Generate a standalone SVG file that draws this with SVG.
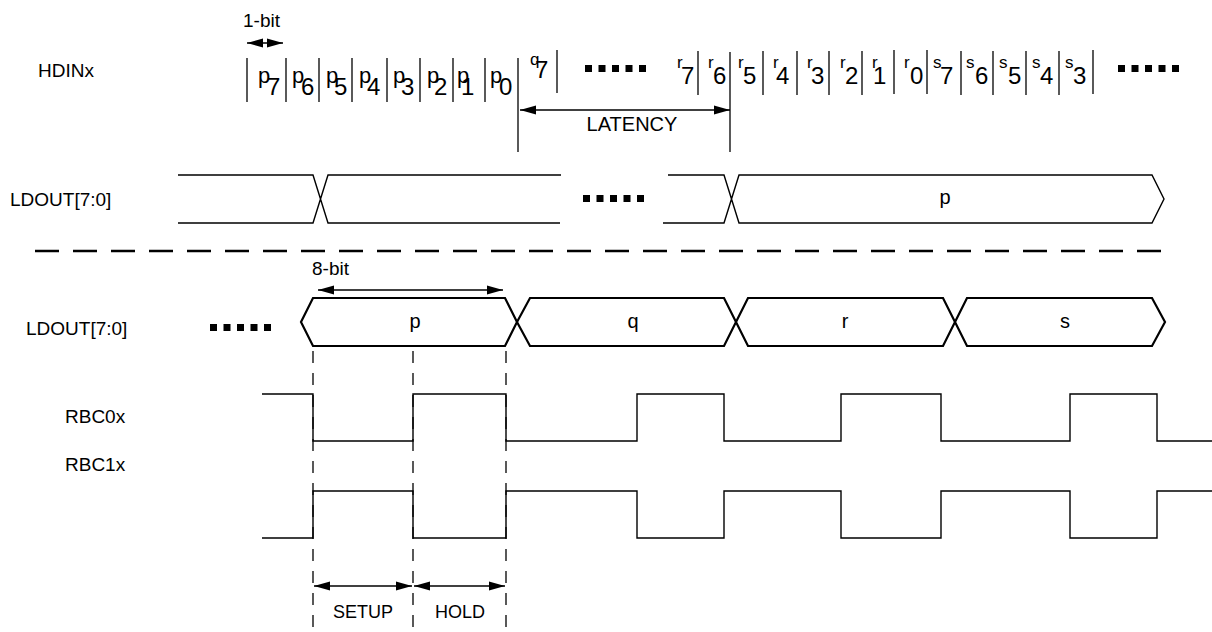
<svg xmlns="http://www.w3.org/2000/svg" width="1212" height="632" viewBox="0 0 1212 632">
<style>
  text { font-family: "Liberation Sans", Arial, sans-serif; fill: #000; }
  .lbl { font-size: 19px; }
  .small { font-size: 18px; }
  .pl { font-size: 20px; }
  .pb { font-size: 22px; }
  .ql { font-size: 17px; }
  .dg { font-size: 24px; }
  .bar { stroke: #000; stroke-width: 1.3; fill: none; }
  .sig { stroke: #000; stroke-width: 1.4; fill: none; stroke-linejoin: miter; }
  .bus { stroke: #000; stroke-width: 2.2; fill: none; stroke-linejoin: miter; }
  .arr { stroke: #000; stroke-width: 1.3; fill: none; marker-start: url(#ah); marker-end: url(#ah); }
  .vdash { stroke: #000; stroke-width: 1.3; stroke-dasharray: 12 10; fill: none; }
  .hdash { stroke: #000; stroke-width: 2.5; stroke-dasharray: 24 14; fill: none; }
</style>
<defs>
  <marker id="ah" markerUnits="userSpaceOnUse" markerWidth="16" markerHeight="10" refX="16" refY="5" orient="auto-start-reverse" viewBox="0 0 16 10">
    <path d="M0,0.5 L16,5 L0,9.5 z" fill="#000"/>
  </marker>
  <g id="dots">
    <rect x="0" y="0" width="7" height="7"/>
    <rect x="13.5" y="0" width="7" height="7"/>
    <rect x="27" y="0" width="7" height="7"/>
    <rect x="40.5" y="0" width="7" height="7"/>
    <rect x="54" y="0" width="7" height="7"/>
  </g>
</defs>

<!-- signal labels -->
<g id="label-hdinx"><text class="lbl" x="38" y="77">HDINx</text></g>
<g id="label-ldout-top"><text class="lbl" x="10" y="206">LDOUT[7:0]</text></g>
<g id="label-ldout-bottom"><text class="lbl" x="26" y="335">LDOUT[7:0]</text></g>
<g id="label-rbc0x"><text class="lbl" x="65" y="423">RBC0x</text></g>
<g id="label-rbc1x"><text class="lbl" x="65" y="471">RBC1x</text></g>

<!-- HDINx bit stream -->
<g id="hdinx">
  <g id="hdinx-bars">
    <line class="bar" x1="247" y1="58" x2="247" y2="102"/>
    <line class="bar" x1="286" y1="58" x2="286" y2="102"/>
    <line class="bar" x1="319" y1="58" x2="319" y2="102"/>
    <line class="bar" x1="352" y1="58" x2="352" y2="102"/>
    <line class="bar" x1="387" y1="58" x2="387" y2="102"/>
    <line class="bar" x1="420" y1="58" x2="420" y2="102"/>
    <line class="bar" x1="453" y1="58" x2="453" y2="102"/>
    <line class="bar" x1="485" y1="58" x2="485" y2="102"/>
    <line class="bar" x1="518" y1="58" x2="518" y2="152"/>
    <line class="bar" x1="557" y1="50" x2="557" y2="93"/>
    <line class="bar" x1="698" y1="51" x2="698" y2="95"/>
    <line class="bar" x1="730" y1="52" x2="730" y2="152"/>
    <line class="bar" x1="763" y1="51" x2="763" y2="95"/>
    <line class="bar" x1="797" y1="51" x2="797" y2="95"/>
    <line class="bar" x1="829" y1="51" x2="829" y2="95"/>
    <line class="bar" x1="862" y1="51" x2="862" y2="95"/>
    <line class="bar" x1="894" y1="50" x2="894" y2="94"/>
    <line class="bar" x1="927" y1="50" x2="927" y2="94"/>
    <line class="bar" x1="961" y1="51" x2="961" y2="95"/>
    <line class="bar" x1="993" y1="51" x2="993" y2="95"/>
    <line class="bar" x1="1026" y1="51" x2="1026" y2="95"/>
    <line class="bar" x1="1059" y1="51" x2="1059" y2="95"/>
    <line class="bar" x1="1093" y1="50" x2="1093" y2="94"/>
  </g>
  <g id="hdinx-bits">
    <text class="pb" x="258" y="83">p<tspan class="dg" x="267" y="95">7</tspan></text>
    <text class="pb" x="292" y="83">p<tspan class="dg" x="301" y="95">6</tspan></text>
    <text class="pb" x="326" y="83">p<tspan class="dg" x="334" y="95">5</tspan></text>
    <text class="pb" x="359" y="83">p<tspan class="dg" x="367" y="95">4</tspan></text>
    <text class="pb" x="393" y="83">p<tspan class="dg" x="401" y="95">3</tspan></text>
    <text class="pb" x="427" y="83">p<tspan class="dg" x="434" y="95">2</tspan></text>
    <text class="pb" x="457" y="83">p<tspan class="dg" x="461" y="95">1</tspan></text>
    <text class="pb" x="490" y="83">p<tspan class="dg" x="499" y="95">0</tspan></text>
    <text class="ql" x="530" y="65">q<tspan class="dg" x="535" y="78">7</tspan></text>
    <text class="ql" x="677" y="68">r<tspan class="dg" x="681" y="84">7</tspan></text>
    <text class="ql" x="708" y="68">r<tspan class="dg" x="713" y="84">6</tspan></text>
    <text class="ql" x="738" y="68">r<tspan class="dg" x="743" y="84">5</tspan></text>
    <text class="ql" x="773" y="68">r<tspan class="dg" x="776" y="84">4</tspan></text>
    <text class="ql" x="807" y="68">r<tspan class="dg" x="811" y="84">3</tspan></text>
    <text class="ql" x="840" y="68">r<tspan class="dg" x="845" y="84">2</tspan></text>
    <text class="ql" x="872" y="68">r<tspan class="dg" x="873" y="84">1</tspan></text>
    <text class="ql" x="904" y="68">r<tspan class="dg" x="910" y="84">0</tspan></text>
    <text class="ql" x="933" y="68">s<tspan class="dg" x="940" y="84">7</tspan></text>
    <text class="ql" x="966" y="68">s<tspan class="dg" x="975" y="84">6</tspan></text>
    <text class="ql" x="999" y="68">s<tspan class="dg" x="1008" y="84">5</tspan></text>
    <text class="ql" x="1032" y="68">s<tspan class="dg" x="1040" y="84">4</tspan></text>
    <text class="ql" x="1065" y="68">s<tspan class="dg" x="1073" y="84">3</tspan></text>
  </g>
  <use href="#dots" x="585" y="65"/>
  <use href="#dots" x="1118" y="65"/>
</g>

<!-- upper LDOUT -->
<g id="ldout-top">
  <path class="sig" d="M178,175 H313 L328,223 H560 M178,223 H313 L328,175 H561"/>
  <use href="#dots" x="583" y="195"/>
  <path class="sig" d="M668,175 H724 L739,223 H1152 L1164,199 L1152,175 H739 L724,223 H663"/>
  <text class="pl" x="945" y="204" text-anchor="middle">p</text>
</g>

<!-- divider -->
<g id="divider"><line class="hdash" x1="35" y1="251" x2="1162" y2="251"/></g>

<!-- lower LDOUT -->
<g id="ldout-bottom">
  <use href="#dots" x="210" y="324"/>
  <path class="bus" d="M301,322 L313,298 H505 L517,322 L505,346 H313 Z"/>
  <path class="bus" d="M517,322 L530,298 H724 L736,322 L724,346 H530 Z"/>
  <path class="bus" d="M736,322 L748,298 H943 L955,322 L943,346 H748 Z"/>
  <path class="bus" d="M955,322 L967,298 H1152 L1165,322 L1152,346 H967 Z"/>
  <text class="pl" x="415" y="328" text-anchor="middle">p</text>
  <text class="pl" x="633" y="328" text-anchor="middle">q</text>
  <text class="pl" x="845" y="328" text-anchor="middle">r</text>
  <text class="pl" x="1065" y="328" text-anchor="middle">s</text>
</g>

<!-- clocks -->
<g id="rbc0x">
  <path class="sig" d="M262,394 H313 V441 H413 V394 H506 V441 H637 V394 H724 V441 H841 V394 H941 V441 H1070 V394 H1157 V441 H1212"/>
</g>
<g id="rbc1x">
  <path class="sig" d="M262,538 H313 V491 H413 V538 H506 V491 H637 V538 H724 V491 H841 V538 H941 V491 H1070 V538 H1157 V491 H1212"/>
</g>

<!-- connectors: dimension arrows and reference lines -->
<g id="connectors">
  <line class="vdash" x1="313" y1="351" x2="313" y2="632"/>
  <line class="vdash" x1="413" y1="351" x2="413" y2="632"/>
  <line class="vdash" x1="506" y1="351" x2="506" y2="632"/>
  <line class="arr" x1="247" y1="43" x2="283" y2="43"/>
  <line class="arr" x1="520" y1="110" x2="730" y2="110"/>
  <line class="arr" x1="318" y1="290" x2="503" y2="290"/>
  <line class="arr" x1="314" y1="586" x2="412" y2="586"/>
  <line class="arr" x1="414" y1="586" x2="505" y2="586"/>
</g>

<!-- dimension labels -->
<g id="dim-labels">
  <text class="lbl" x="243" y="27">1-bit</text>
  <text class="lbl" x="312" y="275">8-bit</text>
  <text class="pl" x="632" y="131" text-anchor="middle">LATENCY</text>
  <text class="small" x="363" y="618" text-anchor="middle">SETUP</text>
  <text class="small" x="460" y="618" text-anchor="middle">HOLD</text>
</g>
</svg>
